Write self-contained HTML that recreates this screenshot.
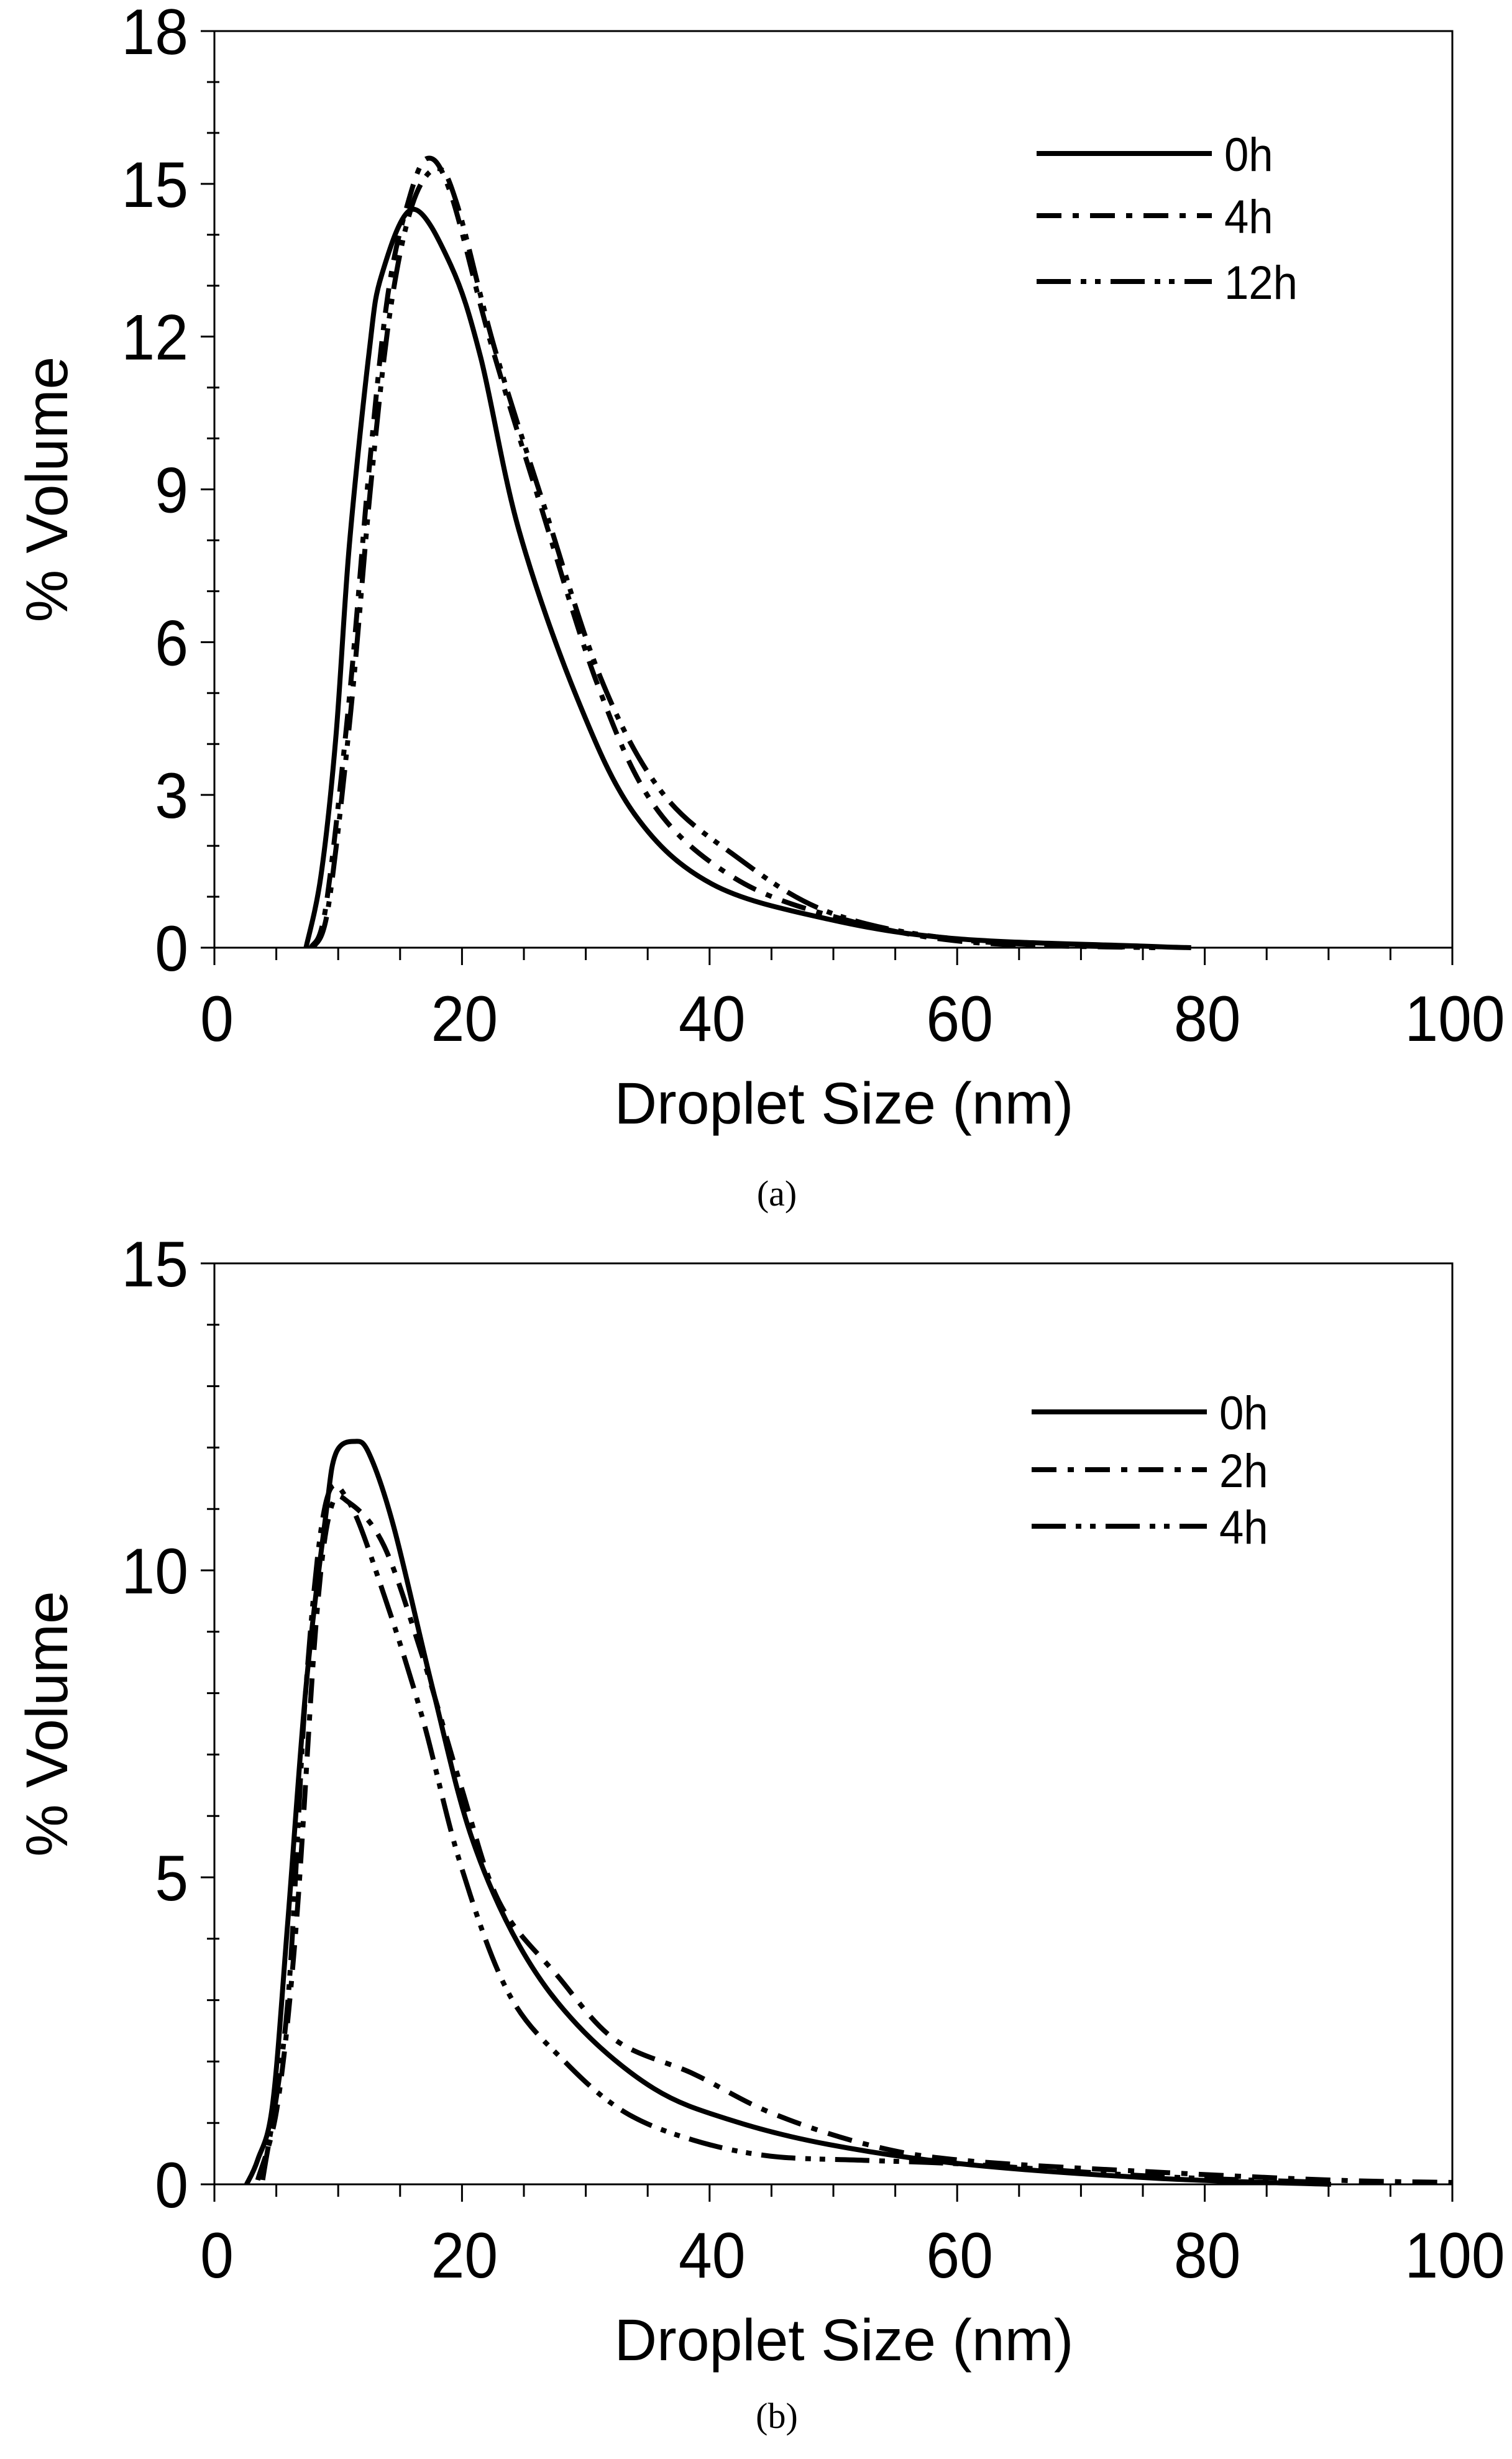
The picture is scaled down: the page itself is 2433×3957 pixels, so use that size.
<!DOCTYPE html>
<html><head><meta charset="utf-8"><style>
html,body{margin:0;padding:0;background:#fff;overflow:hidden}
svg{display:block}
text{font-family:"Liberation Sans",sans-serif;fill:#000}
</style></head><body>
<svg id="s" width="2433" height="3957" viewBox="0 0 2433 3957" xmlns="http://www.w3.org/2000/svg"></svg>
<script>
const NS="http://www.w3.org/2000/svg",S=document.getElementById('s');
function el(t,a,txt){const e=document.createElementNS(NS,t);for(const k in a)e.setAttribute(k,a[k]);if(txt!=null)e.textContent=txt;S.appendChild(e);return e;}
function tx(x,y,s,anchor,str,sx){el('text',{x:0,y:0,'font-size':s,'text-anchor':anchor,transform:`translate(${x},${y}) scale(${sx||1},1)`},str);}
function cr(pts){let d='M'+pts[0][0].toFixed(1)+','+pts[0][1].toFixed(1);
for(let i=0;i<pts.length-1;i++){const p0=pts[i-1]||pts[i],p1=pts[i],p2=pts[i+1],p3=pts[i+2]||p2;
const c1=[p1[0]+(p2[0]-p0[0])/6,p1[1]+(p2[1]-p0[1])/6],c2=[p2[0]-(p3[0]-p1[0])/6,p2[1]-(p3[1]-p1[1])/6];
d+=' C'+c1.map(v=>v.toFixed(1))+' '+c2.map(v=>v.toFixed(1))+' '+p2.map(v=>v.toFixed(1));}return d;}
const DASH={solid:null,dd:'40,18,10,18',ddd:'55,16,9,14,9,16'};
const FS=104;
function chart(o){
 const L=345,R=2337,T=o.top,B=o.bot,ymax=o.ymax;
 const X=v=>L+(R-L)*v/100,Y=v=>B-(B-T)*v/ymax;
 el('rect',{x:L,y:T,width:R-L,height:B-T,fill:'none',stroke:'#000','stroke-width':3});
 for(let v=0;v<=ymax+1e-9;v+=o.ymin){const maj=Math.abs(v/o.ymaj-Math.round(v/o.ymaj))<1e-6;
  el('line',{x1:maj?L-22:L-12,x2:L+(maj?0:8),y1:Y(v),y2:Y(v),stroke:'#000','stroke-width':3});
  if(maj)tx(L-42,Y(v)+37,FS,'end',String(Math.round(v)),0.93);}
 for(let v=0;v<=100;v+=5){const maj=v%20==0;
  el('line',{x1:X(v),x2:X(v),y1:B,y2:B+(maj?28:20),stroke:'#000','stroke-width':3});
  if(maj)tx(X(v)+4,B+150,FS,'middle',String(v),0.93);}
 tx(1358,B+283,95,'middle','Droplet Size (nm)');
 el('text',{x:0,y:0,'font-size':95,'text-anchor':'middle',transform:`translate(108,${(T+B)/2}) rotate(-90)`},'% Volume');
 el('text',{x:1250,y:B+o.cap,'font-size':58,'text-anchor':'middle',style:'font-family:"Liberation Serif",serif'},'('+o.lab+')');
 o.series.forEach(s=>{const a={d:cr(s.p.map(p=>[X(p[0]),Y(p[1])])),fill:'none',stroke:'#000','stroke-width':8,'stroke-linejoin':'round'};
  if(DASH[s.st])a['stroke-dasharray']=DASH[s.st];el('path',a);});
 o.leg.forEach((g,i)=>{const a={x1:o.lx,x2:o.lx+282,y1:o.ly[i],y2:o.ly[i],stroke:'#000','stroke-width':8};
  if(DASH[g[1]])a['stroke-dasharray']=DASH[g[1]];el('line',a);
  tx(o.lx+302,o.ly[i]+28,76,'start',g[0],0.93);});
}
chart({top:50,bot:1525,ymax:18,ymaj:3,ymin:1,lab:'a',cap:415,lx:1668,ly:[247,347,453],
 leg:[['0h','solid'],['4h','dd'],['12h','ddd']],
 series:[
 {st:'solid',p:[[7.4,0],[8.6,1.4],[9.8,4.1],[10.9,7.9],[12.5,11.7],[13.5,13.2],[16,14.5],[19.1,13.4],[21.5,11.6],[24.6,8.2],[29.3,4.9],[34,2.6],[40.2,1.25],[49.6,0.56],[59.8,0.18],[75,0.03],[78.9,0]]},
 {st:'dd',p:[[7.8,0],[9,0.8],[10.9,4.9],[12.5,9.4],[14,12.8],[15.6,14.6],[17.2,15.5],[19.1,14.8],[22.3,11.9],[26.2,8.8],[30.9,5.2],[35.5,2.8],[41.8,1.4],[49.6,0.64],[60.5,0.12],[76,0]]},
 {st:'ddd',p:[[8,0],[9.2,0.8],[11,4.6],[12.6,9.0],[14.2,12.5],[16,14.6],[18,15.3],[19.6,14.6],[22.6,11.8],[26.6,8.7],[31.2,5.3],[36,3.1],[41.8,1.85],[49.6,0.7],[60.5,0.15],[76,0]]}
 ]});
chart({top:2033,bot:3515,ymax:15,ymaj:5,ymin:1,lab:'b',cap:392,lx:1660,ly:[2272,2365,2456],
 leg:[['0h','solid'],['2h','dd'],['4h','ddd']],
 series:[
 {st:'solid',p:[[2.6,0],[3.5,0.4],[4.7,1.3],[5.9,4.2],[7.4,8.1],[9.0,10.9],[9.8,11.9],[11.3,12.1],[12.5,11.9],[14.5,10.7],[17.6,8.1],[20.7,5.7],[24.6,3.9],[29.3,2.6],[35.5,1.56],[41.8,1.04],[49.6,0.65],[60.5,0.33],[76,0.1],[90.2,0]]},
 {st:'dd',p:[[3.5,0.07],[5.1,1.3],[6.6,4.2],[8.2,9.1],[9.4,11],[10.9,11.1],[13.7,10.4],[16.8,8.6],[19.9,6.5],[23,4.6],[27.7,3.4],[32.4,2.35],[38.7,1.8],[44.9,1.17],[52.7,0.65],[60.5,0.39],[76,0.2],[90.2,0.07],[100,0.03]]},
 {st:'ddd',p:[[3.9,0.07],[5.9,2.9],[7.4,8.1],[9,11.1],[10.9,11.1],[13.7,9.6],[16.8,7.6],[19.9,5.2],[23.8,3.1],[28.5,1.96],[33.2,1.17],[38.7,0.72],[44.9,0.46],[52.7,0.39],[60.5,0.33],[76,0.13],[90,0.03]]}
 ]});
</script>
</body></html>
